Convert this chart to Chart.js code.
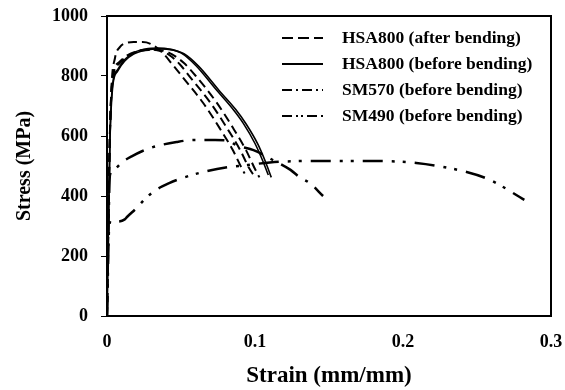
<!DOCTYPE html>
<html>
<head>
<meta charset="utf-8">
<script src="https://cdn.jsdelivr.net/npm/chart.js@4"></script>
<style>
  html, body { margin: 0; padding: 0; background: #fff; }
  #wrap { width: 565px; height: 390px; }
</style>
</head>
<body>
<div id="wrap"><canvas id="chart"></canvas></div>
<script>
// values
const xTicks = [0, 0.1, 0.2, 0.3];
const yTicks = [0, 200, 400, 600, 800, 1000];

// HSA800 after bending (dashed, three specimens)
const after1Strain = [0, 0.0015, 0.003, 0.0054, 0.0088, 0.013, 0.018, 0.024, 0.029, 0.037, 0.044, 0.051, 0.065, 0.076, 0.085, 0.091, 0.093];
const after1Stress = [0, 500, 760, 860, 897, 910, 913, 913, 908, 880, 840, 797, 710, 627, 553, 493, 475];
const after2Strain = [0, 0.002, 0.004, 0.008, 0.014, 0.02, 0.028, 0.035, 0.042, 0.049, 0.056, 0.07, 0.081, 0.09, 0.096, 0.099];
const after2Stress = [0, 620, 800, 845, 870, 882, 888, 885, 870, 840, 797, 710, 627, 553, 493, 470];
const after3Strain = [0, 0.002, 0.004, 0.008, 0.014, 0.02, 0.028, 0.036, 0.044, 0.052, 0.06, 0.074, 0.085, 0.094, 0.1, 0.103];
const after3Stress = [0, 610, 795, 840, 866, 880, 887, 886, 872, 843, 800, 712, 628, 552, 490, 462];

// HSA800 before bending (solid, two specimens)
const before1Strain = [0, 0.002, 0.004, 0.007, 0.012, 0.018, 0.026, 0.035, 0.042, 0.05, 0.06, 0.074, 0.085, 0.092, 0.1, 0.105, 0.109];
const before1Stress = [0, 600, 780, 820, 855, 878, 890, 893, 890, 877, 835, 753, 690, 643, 575, 520, 470];
const before2Strain = [0, 0.002, 0.004, 0.007, 0.012, 0.018, 0.026, 0.036, 0.044, 0.052, 0.062, 0.076, 0.087, 0.094, 0.102, 0.107, 0.111];
const before2Stress = [0, 580, 770, 815, 850, 873, 886, 890, 887, 874, 832, 750, 688, 640, 572, 515, 462];

// SM570 before bending
const sm570Strain = [0, 0.001, 0.002, 0.005, 0.01, 0.017, 0.024, 0.031, 0.047, 0.059, 0.073, 0.081, 0.088, 0.099, 0.112, 0.124, 0.13, 0.137, 0.146];
const sm570Stress = [0, 300, 470, 490, 512, 533, 550, 563, 580, 587, 587, 585, 568, 553, 520, 487, 463, 443, 400];

// SM490 before bending
const sm490Strain = [0, 0.0015, 0.003, 0.007, 0.012, 0.0135, 0.02, 0.026, 0.033, 0.042, 0.051, 0.065, 0.083, 0.095, 0.11, 0.142, 0.176, 0.209, 0.243, 0.259, 0.282];
const sm490Stress = [0, 300, 318, 315, 322, 330, 360, 392, 420, 443, 460, 480, 497, 503, 512, 517, 517, 510, 480, 453, 387];

const legendLabels = ['HSA800 (after bending)', 'HSA800 (before bending)', 'SM570 (before bending)', 'SM490 (before bending)'];

const FONT = "'Liberation Serif', 'Times New Roman', serif";

function pts(xs, ys) {
  return xs.map((x, i) => ({ x: x, y: ys[i] }));
}

function line(xs, ys, width, dash) {
  return {
    data: pts(xs, ys),
    showLine: true,
    borderColor: '#000',
    borderWidth: width,
    borderDash: dash,
    pointRadius: 0,
    cubicInterpolationMode: 'monotone',
    fill: false
  };
}

const dashStyles = {
  after: [9, 5],
  before: [],
  sm570: [20, 9, 3, 9],
  sm490: [20, 9, 3, 8, 3, 9]
};
const legendDash = [[11, 5], [], [10, 4, 2, 4], [10, 4, 2, 3, 2, 4]];

// frame round the plot area and the legend in its upper right
const framePlugin = {
  id: 'frame',
  afterDraw(chart) {
    const { ctx, chartArea: a } = chart;
    ctx.save();
    ctx.strokeStyle = '#000';
    ctx.lineWidth = 2;
    ctx.setLineDash([]);
    ctx.strokeRect(a.left, a.top, a.right - a.left, a.bottom - a.top);

    ctx.font = 'bold 17.5px ' + FONT;
    ctx.textBaseline = 'middle';
    ctx.fillStyle = '#000';
    legendLabels.forEach((label, i) => {
      const y = a.top + 22 + i * 26;
      ctx.beginPath();
      ctx.lineWidth = 2;
      ctx.setLineDash(legendDash[i]);
      ctx.moveTo(a.left + 175, y);
      ctx.lineTo(a.left + 216, y);
      ctx.stroke();
      ctx.setLineDash([]);
      ctx.fillText(label, a.left + 235, y);
    });
    ctx.restore();
  }
};

new Chart(document.getElementById('chart'), {
  type: 'scatter',
  data: {
    datasets: [
      line(after1Strain, after1Stress, 2, dashStyles.after),
      line(after2Strain, after2Stress, 2, dashStyles.after),
      line(after3Strain, after3Stress, 2, dashStyles.after),
      line(before1Strain, before1Stress, 1.6, dashStyles.before),
      line(before2Strain, before2Stress, 1.6, dashStyles.before),
      line(sm570Strain, sm570Stress, 2.5, dashStyles.sm570),
      line(sm490Strain, sm490Stress, 2.5, dashStyles.sm490)
    ]
  },
  options: {
    responsive: true,
    maintainAspectRatio: false,
    animation: false,
    layout: { padding: { top: 16, right: 14, bottom: 0, left: 0 } },
    plugins: {
      legend: { display: false },
      tooltip: { enabled: false }
    },
    scales: {
      x: {
        type: 'linear',
        min: 0,
        max: 0.3,
        afterBuildTicks(scale) {
          scale.ticks = xTicks.map(v => ({ value: v }));
        },
        afterFit(scale) {
          scale.height = 74;
          scale.paddingLeft = 0;
          scale.paddingRight = 0;
        },
        grid: { display: false, drawTicks: false },
        border: { display: true, color: '#000', width: 2 },
        ticks: {
          padding: 16,
          maxRotation: 0,
          color: '#000',
          font: { family: FONT, size: 18, weight: 'bold' },
          callback: v => String(v)
        },
        title: {
          display: true,
          text: 'Strain (mm/mm)',
          color: '#000',
          padding: { top: 0, bottom: 0 },
          font: { family: FONT, size: 23, weight: 'bold' }
        }
      },
      y: {
        min: 0,
        max: 1000,
        afterBuildTicks(scale) {
          scale.ticks = yTicks.map(v => ({ value: v }));
        },
        afterFit(scale) {
          scale.width = 107;
          scale.paddingTop = 0;
          scale.paddingBottom = 0;
        },
        grid: { drawOnChartArea: false, drawTicks: true, tickLength: 6, color: '#000', lineWidth: 1 },
        border: { display: true, color: '#000', width: 2 },
        ticks: {
          padding: 13,
          color: '#000',
          font: { family: FONT, size: 18, weight: 'bold' },
          callback: v => String(v)
        },
        title: {
          display: true,
          text: 'Stress (MPa)',
          color: '#000',
          padding: { top: 13, bottom: 0 },
          font: { family: FONT, size: 20, weight: 'bold' }
        }
      }
    }
  },
  plugins: [framePlugin]
});
</script>
</body>
</html>
